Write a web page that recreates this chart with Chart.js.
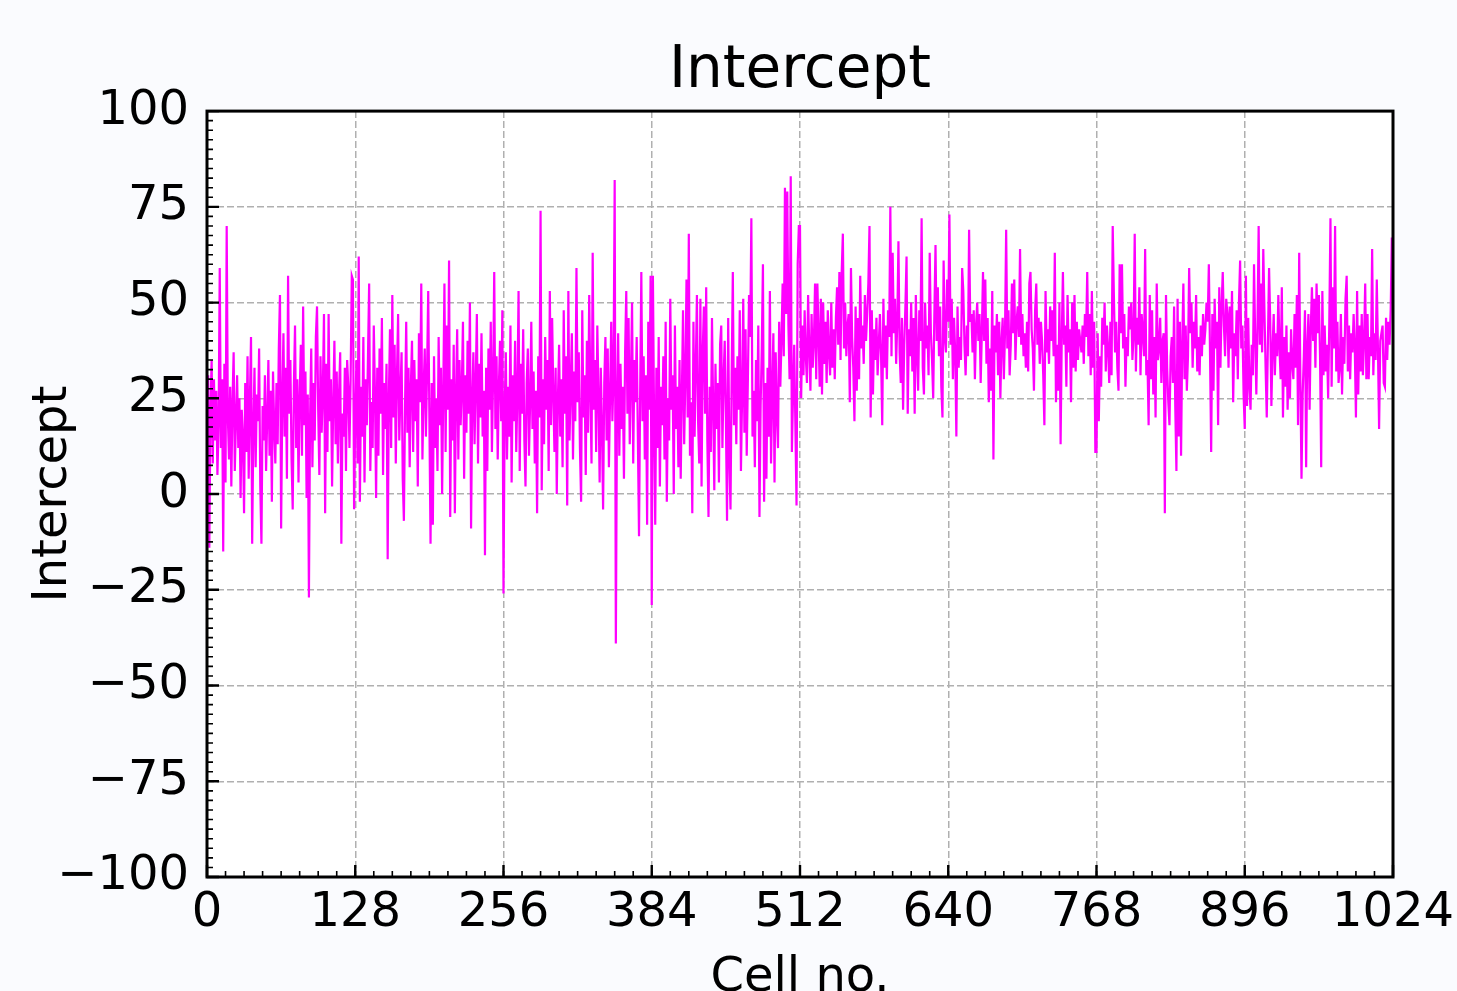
<!DOCTYPE html>
<html>
<head>
<meta charset="utf-8">
<script src="https://cdn.jsdelivr.net/npm/chart.js@4.4.0/dist/chart.umd.min.js"></script>
<style>
    html, body { margin: 0; padding: 0; background: #fafbfe; }
    #wrap { width: 1457px; height: 991px; }
</style>
</head>
<body>
<div id="wrap"><canvas id="interceptChart" width="1457" height="991"></canvas></div>
<script>
// Intercept per cell in blocks of 128 cells
const cells0 = [
    26, 31, -14, 22, 35, 8, 30, 14, 27, 5,
    18, 59, 12, 30, -15, 34, 3, 70, 20, 9,
    28, 2, 24, 37, 6, 19, 31, 12, 25, -1,
    22, 15, -5, 29, 11, 36, 4, 24, 41, -13,
    17, 33, 7, 26, 19, 38, 2, -13, 23, 14,
    31, 6, 20, 35, 10, 27, -2, 32, 18, 8,
    29, 13, 38, 52, -9, 24, 42, 15, 33, 4,
    57, 21, 35, 9, -4, 28, 44, 12, 30, 3,
    25, 39, 10, 49, 18, 32, -1, 26, -27, 20,
    38, 7, 29, 14, 41, 49, 22, 5, 36, 16,
    27, 47, -5, 34, 11, 47, 19, 30, 2, 24,
    40, 13, 32, 8, 26, 37, -13, 21, 15, 33,
    6, 35, 28, 12, 30, 57, 56, -4
];
const cells128 = [
    20, 35, 8, 62, -2, 28, 15, 41, 3, 30,
    18, 36, 55, 6, 24, 12, 44, 27, -1, 33,
    10, 38, 21, 46, 5, 29, 17, 34, -17, 25,
    43, 12, 52, 20, 39, 8, 31, 47, 14, 26,
    37, 4, -7, 23, 45, 16, 33, 7, 28, 40,
    11, 35, 19, 30, 2, 42, 24, 55, 9, 27,
    38, 15, 32, 53, 20, -13, 29, -8, 36, 12,
    25, 6, 41, 18, 33, 0, 27, 55, 11, 44,
    22, 61, -6, 30, 14, 39, -5, 26, 43, 9,
    35, 18, 28, 45, 4, 31, 16, 40, 21, 50,
    -9, 24, 37, 13, 29, 47, 8, 34, 20, 42,
    15, 27, -16, 33, 6, 38, 22, 45, 11, 30,
    58, 17, 36, 9, 28, 40, 19, 48
];
const cells256 = [
    -26, 22, 37, 9, 28, 15, 44, 3, 31, 19,
    40, 11, 26, 53, 6, 34, 21, 43, 14, 2,
    29, 38, 10, 24, 45, 17, 32, 8, 27, -5,
    36, 20, 74, 1, 30, 13, 41, 22, 35, 6,
    53, 18, 46, 26, 11, 33, 0, 25, 39, 15,
    30, 7, 48, 21, 36, -3, 53, 14, 28, 42,
    9, 32, 19, 59, 24, 37, 12, -2, 48, 20,
    31, 5, 40, 16, 52, 27, 8, 63, 22, 35,
    11, 44, 26, 3, 33, 18, -4, 29, 41, 14,
    38, 7, 25, 45, 19, 31, 82, -39, 23, 42,
    10, 34, 17, 28, 4, 37, 53, 21, 46, 13,
    30, 50, 8, 35, 24, 41, 15, -11, 27, 58,
    19, 36, 9, 31, -8, 45, 22, 57
];
const cells384 = [
    -29, 57, 20, -8, 33, 12, 41, 2, 28, 18,
    36, 9, 45, -2, 25, 14, 51, 22, 31, 0,
    44, 17, 28, 7, 35, 4, 26, 48, 13, 30,
    56, 20, 68, 10, 24, -5, 45, 15, 33, 52,
    19, 8, 51, 2, 37, 49, 21, 54, 14, -6,
    28, 11, 46, 23, 1, 34, 17, 29, 3, 39,
    44, 12, 30, 40, 20, -7, 46, 9, -4, 31,
    58, 18, 33, 13, 36, 22, 48, 6, 25, 51,
    16, 43, 10, 30, 52, 41, 72, 15, 27, 7,
    35, 19, 44, -6, 23, 38, 60, -2, 29, 4,
    33, 15, 53, 8, 26, 42, 3, 37, 21, 12,
    45, 28, 40, 55, 36, 80, 47, 79, 44, 30,
    83, 11, 26, 39, 18, -3, 60, 70
];
const cells512 = [
    70, 25, 44, 31, 48, 36, 29, 52, 38, 27,
    47, 33, 40, 55, 30, 55, 42, 28, 51, 26,
    50, 34, 45, 29, 48, 37, 31, 50, 33, 43,
    30, 46, 54, 39, 58, 35, 58, 68, 38, 50,
    36, 44, 47, 24, 59, 41, 33, 19, 49, 27,
    46, 30, 57, 38, 44, 34, 52, 40, 47, 55,
    70, 20, 48, 26, 43, 35, 46, 31, 39, 47,
    36, 18, 51, 33, 44, 30, 48, 41, 75, 36,
    63, 42, 51, 34, 45, 66, 37, 29, 46, 22,
    39, 49, 62, 21, 43, 36, 50, 32, 46, 21,
    52, 37, 27, 48, 40, 72, 33, 26, 50, 38,
    44, 31, 63, 42, 35, 25, 47, 65, 40, 54,
    36, 49, 28, 20, 61, 41, 37, 56
];
const cells640 = [
    45, 73, 39, 51, 30, 46, 37, 15, 49, 33,
    41, 35, 59, 53, 39, 31, 44, 36, 69, 45,
    47, 37, 48, 30, 44, 50, 40, 47, 29, 42,
    58, 40, 56, 34, 46, 24, 38, 27, 53, 9,
    44, 37, 47, 31, 45, 25, 40, 46, 30, 42,
    69, 38, 48, 31, 39, 55, 42, 56, 35, 45,
    49, 41, 64, 39, 47, 36, 42, 33, 45, 32,
    55, 58, 43, 38, 27, 48, 55, 39, 46, 34,
    45, 40, 31, 18, 53, 37, 43, 34, 49, 40,
    48, 36, 63, 24, 39, 27, 50, 13, 41, 58,
    39, 44, 28, 52, 37, 43, 24, 50, 33, 52,
    32, 45, 35, 43, 40, 37, 44, 34, 47, 41,
    58, 36, 47, 31, 53, 33, 45, 11
];
const cells768 = [
    11, 42, 19, 36, 28, 46, 39, 50, 32, 44,
    38, 29, 45, 31, 70, 52, 37, 45, 33, 27,
    60, 42, 60, 38, 47, 28, 41, 36, 49, 43,
    50, 35, 41, 68, 32, 46, 39, 54, 31, 47,
    42, 36, 64, 31, 35, 18, 52, 30, 48, 26,
    41, 20, 55, 35, 38, 46, 29, 40, 42, -5,
    52, 33, 24, 18, 36, 41, 29, 49, 23, 6,
    51, 15, 45, 10, 39, 55, 30, 44, 27, 36,
    59, 42, 50, 33, 45, 38, 52, 32, 41, 31,
    44, 36, 47, 39, 43, 50, 45, 60, 37, 11,
    47, 27, 51, 38, 45, 18, 54, 33, 49, 58,
    44, 36, 51, 47, 33, 49, 38, 53, 24, 42,
    36, 48, 30, 50, 61, 38, 44, 26
];
const cells896 = [
    17, 57, 23, 46, 28, 22, 39, 31, 60, 41,
    26, 44, 70, 39, 55, 37, 64, 48, 33, 20,
    40, 59, 45, 23, 38, 47, 31, 42, 36, 52,
    38, 30, 54, 20, 41, 28, 44, 22, 37, 25,
    43, 34, 30, 47, 33, 52, 18, 63, 30, 4,
    26, 36, 48, 7, 39, 47, 22, 43, 54, 40,
    51, 33, 55, 42, 52, 36, 7, 53, 31, 44,
    32, 39, 25, 45, 72, 28, 54, 38, 70, 32,
    45, 29, 33, 47, 26, 41, 34, 51, 57, 32,
    44, 30, 42, 37, 47, 38, 20, 53, 26, 44,
    32, 47, 31, 40, 55, 30, 47, 30, 41, 36,
    64, 31, 42, 35, 56, 38, 17, 40, 42, 44,
    29, 28, 46, 35, 45, 39, 48, 67
];

const xTicks = [0, 128, 256, 384, 512, 640, 768, 896, 1024];
const yTicks = [-100, -75, -50, -25, 0, 25, 50, 75, 100];

const intercept = [].concat(cells0, cells128, cells256, cells384, cells512, cells640, cells768, cells896);
const points = intercept.map((v, i) => ({ x: i, y: v }));

const FONT = 'DejaVu Sans';

// page background and white plot area
const plotBackground = {
    id: 'plotBackground',
    beforeDraw: (chart) => {
        const { ctx, chartArea: a } = chart;
        ctx.save();
        ctx.fillStyle = '#fafbfe';
        ctx.fillRect(0, 0, chart.width, chart.height);
        ctx.fillStyle = '#ffffff';
        ctx.fillRect(a.left, a.top, a.right - a.left, a.bottom - a.top);
        ctx.restore();
    }
};

// inward ticks on left/bottom plus the black frame
const frameTicks = {
    id: 'frameTicks',
    afterDatasetsDraw: (chart) => {
        const { ctx, chartArea: a, scales: { x, y } } = chart;
        ctx.save();
        ctx.strokeStyle = '#000';

        ctx.lineWidth = 1.6;
        ctx.beginPath();
        for (let v = -100; v <= 100; v += 2.5) {
            const py = y.getPixelForValue(v);
            ctx.moveTo(a.left, py);
            ctx.lineTo(a.left + 6, py);
        }
        for (let v = 0; v <= 1024; v += 16) {
            const px = x.getPixelForValue(v);
            ctx.moveTo(px, a.bottom);
            ctx.lineTo(px, a.bottom - 6);
        }
        ctx.stroke();

        ctx.lineWidth = 2.4;
        ctx.beginPath();
        yTicks.forEach(v => {
            const py = y.getPixelForValue(v);
            ctx.moveTo(a.left, py);
            ctx.lineTo(a.left + 12, py);
        });
        xTicks.forEach(v => {
            const px = x.getPixelForValue(v);
            ctx.moveTo(px, a.bottom);
            ctx.lineTo(px, a.bottom - 12);
        });
        ctx.stroke();

        ctx.lineWidth = 3;
        ctx.strokeRect(a.left, a.top, a.right - a.left, a.bottom - a.top);
        ctx.restore();
    }
};

new Chart(document.getElementById('interceptChart'), {
    type: 'line',
    data: {
        datasets: [{
            label: 'Intercept',
            data: points,
            borderColor: '#ff00ff',
            borderWidth: 2.2,
            pointRadius: 0,
            tension: 0,
            fill: false
        }]
    },
    options: {
        responsive: false,
        animation: false,
        layout: { padding: { left: 0, right: 64, top: 0, bottom: 0 } },
        plugins: {
            legend: { display: false },
            tooltip: { enabled: false },
            title: {
                display: true,
                text: 'Intercept',
                fullSize: false,
                color: '#000',
                font: { family: FONT, size: 58, weight: 'normal' },
                padding: { top: 37, bottom: 4.5 }
            }
        },
        scales: {
            x: {
                type: 'linear',
                min: 0,
                max: 1024,
                afterBuildTicks: (s) => { s.ticks = xTicks.map(v => ({ value: v })); },
                afterFit: (s) => {
                    s.height = 114;
                    s.paddingLeft = 0;
                    s.paddingRight = 0;
                },
                ticks: {
                    color: '#000',
                    font: { family: FONT, size: 48 },
                    padding: 8,
                    maxRotation: 0,
                    autoSkip: false,
                    callback: (v) => String(v)
                },
                grid: { color: '#b0b0b0', lineWidth: 1.5, drawTicks: false },
                border: { display: false, dash: [7, 3] },
                title: {
                    display: true,
                    text: 'Cell no.',
                    color: '#000',
                    font: { family: FONT, size: 48 },
                    padding: { top: 0, bottom: -16 }
                }
            },
            y: {
                type: 'linear',
                min: -100,
                max: 100,
                afterBuildTicks: (s) => { s.ticks = yTicks.map(v => ({ value: v })); },
                afterFit: (s) => { s.width = 207; },
                ticks: {
                    color: '#000',
                    font: { family: FONT, size: 48 },
                    padding: 18,
                    callback: (v) => String(v).replace('-', '\u2212')
                },
                grid: { color: '#b0b0b0', lineWidth: 1.5, drawTicks: false },
                border: { display: false, dash: [7, 3] },
                title: {
                    display: true,
                    text: 'Intercept',
                    color: '#000',
                    font: { family: FONT, size: 48 },
                    padding: { top: 25, bottom: 0 }
                }
            }
        }
    },
    plugins: [plotBackground, frameTicks]
});
</script>
</body>
</html>
